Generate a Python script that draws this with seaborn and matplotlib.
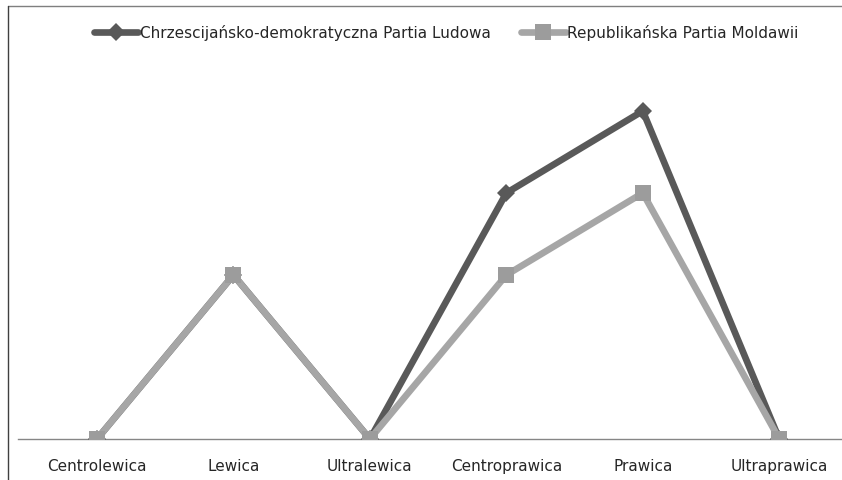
import pandas as pd
import matplotlib.pyplot as plt
import seaborn as sns
from matplotlib.lines import Line2D

# categories on the x axis
categories = ["Centrolewica", "Lewica", "Ultralewica", "Centroprawica", "Prawica", "Ultraprawica"]

# series values
cdpl_values = [0, 2, 0, 3, 4, 0]
rpm_values = [0, 2, 0, 2, 3, 0]

cdpl_name = "Chrzescijańsko-demokratyczna Partia Ludowa"
rpm_name = "Republikańska Partia Moldawii"

df = pd.DataFrame({
    "kategoria": categories * 2,
    "wartosc": cdpl_values + rpm_values,
    "partia": [cdpl_name] * len(categories) + [rpm_name] * len(categories),
})

sns.set_style("white")
plt.rcParams["font.family"] = ["DejaVu Sans"]

fig = plt.figure(figsize=(8.42, 4.81), dpi=100)
ax = fig.add_axes([18 / 842, 1 - 440 / 481, 1 - 18 / 842, (440 - 60) / 481])

# dark series first, light series on top
sns.lineplot(data=df[df["partia"] == cdpl_name], x="kategoria", y="wartosc",
             color="#595959", linewidth=4.8, marker="D", markersize=9.5,
             markeredgewidth=0, sort=False, ax=ax, label=cdpl_name)
sns.lineplot(data=df[df["partia"] == rpm_name], x="kategoria", y="wartosc",
             color="#a6a6a6", linewidth=4.8, marker="s", markersize=11.5,
             markerfacecolor="#9c9c9c", markeredgewidth=0, sort=False, ax=ax,
             label=rpm_name)

ax.set_xlim(-0.579, 5.46)
ax.set_ylim(0, 380 / 82)

# only the baseline, no y axis
for side in ["top", "right", "left"]:
    ax.spines[side].set_visible(False)
ax.spines["bottom"].set_color("#868686")
ax.spines["bottom"].set_linewidth(1)
ax.spines["bottom"].set_zorder(0)
ax.set_yticks([])
ax.tick_params(axis="x", length=0, pad=14, labelsize=11, labelcolor="#262626")
ax.set_xlabel("")
ax.set_ylabel("")

ax.legend(loc="center", bbox_to_anchor=(0.53, 1 - 33 / 481), bbox_transform=fig.transFigure,
          ncol=2, frameon=False, fontsize=11, handlelength=2.9, handletextpad=0.1,
          columnspacing=2.0, numpoints=1)
for t in ax.get_legend().get_texts():
    t.set_color("#262626")

# chart border (top and left edges of the cropped frame)
fig.add_artist(Line2D([8 / 842, 1], [1 - 7 / 481, 1 - 7 / 481], transform=fig.transFigure,
                      color="#7f7f7f", linewidth=1))
fig.add_artist(Line2D([8 / 842, 8 / 842], [0, 1 - 7 / 481], transform=fig.transFigure,
                      color="#404040", linewidth=1))

plt.savefig("out.png", dpi=100)
